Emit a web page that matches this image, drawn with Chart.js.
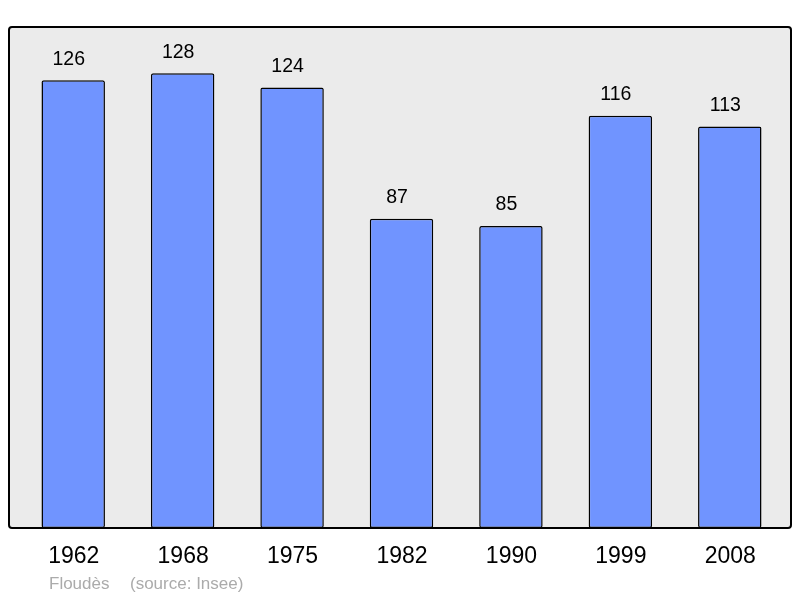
<!DOCTYPE html>
<html>
<head>
<meta charset="utf-8">
<script src="https://cdn.jsdelivr.net/npm/chart.js@4"></script>
<style>
html,body{margin:0;padding:0;background:#fff;}
canvas{display:block;}
</style>
</head>
<body>
<canvas id="c" width="800" height="598"></canvas>
<script>
const years = ["1962","1968","1975","1982","1990","1999","2008"];
const population = [126,128,124,87,85,116,113];
const sourceParts = ["Floudès", "(source: Insee)"];

const framePlugin = {
  id: 'frame',
  beforeDatasetsDraw(chart) {
    const ctx = chart.ctx;
    ctx.save();
    ctx.beginPath();
    ctx.roundRect(9, 27, 782, 501, 3);
    ctx.fillStyle = '#ebebeb';
    ctx.fill();
    ctx.restore();
  },
  afterDatasetsDraw(chart) {
    const ctx = chart.ctx;
    ctx.save();
    ctx.beginPath();
    ctx.roundRect(9, 27, 782, 501, 3);
    ctx.lineWidth = 2;
    ctx.strokeStyle = '#000';
    ctx.stroke();
    const meta = chart.getDatasetMeta(0);
    ctx.fillStyle = '#000';
    ctx.font = '19.5px "Liberation Sans", Arial, sans-serif';
    ctx.textAlign = 'center';
    ctx.textBaseline = 'middle';
    meta.data.forEach((bar, i) => {
      ctx.fillText(String(population[i]), bar.x - 4.5, bar.y - 21);
    });
    const xs = chart.scales.x;
    ctx.font = '23px "Liberation Sans", Arial, sans-serif';
    years.forEach((y, i) => {
      ctx.fillText(y, xs.getPixelForTick(i) + 0.5, 557);
    });
    ctx.fillStyle = '#ababab';
    ctx.font = '17px "Liberation Sans", Arial, sans-serif';
    ctx.textAlign = 'left';
    ctx.fillText(sourceParts[0], 49, 584);
    ctx.fillText(sourceParts[1], 130, 584);
    ctx.restore();
  }
};

new Chart(document.getElementById('c'), {
  type: 'bar',
  data: {
    labels: years,
    datasets: [{
      data: population,
      backgroundColor: '#7094ff',
      borderColor: '#000',
      borderWidth: 1.5,
      borderRadius: 2,
      borderSkipped: false,
      barPercentage: 0.58,
      categoryPercentage: 1
    }]
  },
  options: {
    responsive: false,
    animation: false,
    layout: { padding: { left: 18.5, right: 15.5, top: 27, bottom: 70 } },
    plugins: { legend: { display: false }, tooltip: { enabled: false } },
    scales: {
      x: { display: false },
      y: { display: false, min: 0, max: 141 }
    }
  },
  plugins: [framePlugin]
});
</script>
</body>
</html>
